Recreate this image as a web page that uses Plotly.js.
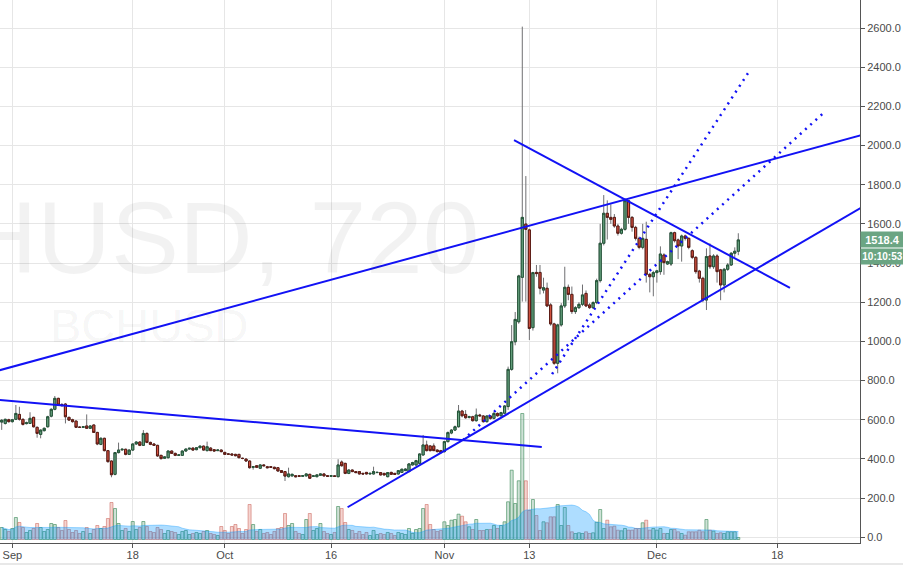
<!DOCTYPE html>
<html><head><meta charset="utf-8">
<script src="https://cdn.plot.ly/plotly-3.0.1.min.js"></script>
<style>html,body{margin:0;padding:0;background:#fff;overflow:hidden}#chart{width:903px;height:565px}</style>
</head><body><div id="chart"></div>
<script>
const time = [
'2017-08-30 12','2017-08-31 00','2017-08-31 12',
'2017-09-01 00','2017-09-01 12','2017-09-02 00','2017-09-02 12','2017-09-03 00','2017-09-03 12','2017-09-04 00','2017-09-04 12','2017-09-05 00','2017-09-05 12',
'2017-09-06 00','2017-09-06 12','2017-09-07 00','2017-09-07 12','2017-09-08 00','2017-09-08 12','2017-09-09 00','2017-09-09 12','2017-09-10 00','2017-09-10 12',
'2017-09-11 00','2017-09-11 12','2017-09-12 00','2017-09-12 12','2017-09-13 00','2017-09-13 12','2017-09-14 00','2017-09-14 12','2017-09-15 00','2017-09-15 12',
'2017-09-16 00','2017-09-16 12','2017-09-17 00','2017-09-17 12','2017-09-18 00','2017-09-18 12','2017-09-19 00','2017-09-19 12','2017-09-20 00','2017-09-20 12',
'2017-09-21 00','2017-09-21 12','2017-09-22 00','2017-09-22 12','2017-09-23 00','2017-09-23 12','2017-09-24 00','2017-09-24 12','2017-09-25 00','2017-09-25 12',
'2017-09-26 00','2017-09-26 12','2017-09-27 00','2017-09-27 12','2017-09-28 00','2017-09-28 12','2017-09-29 00','2017-09-29 12','2017-09-30 00','2017-09-30 12',
'2017-10-01 00','2017-10-01 12','2017-10-02 00','2017-10-02 12','2017-10-03 00','2017-10-03 12','2017-10-04 00','2017-10-04 12','2017-10-05 00','2017-10-05 12',
'2017-10-06 00','2017-10-06 12','2017-10-07 00','2017-10-07 12','2017-10-08 00','2017-10-08 12','2017-10-09 00','2017-10-09 12','2017-10-10 00','2017-10-10 12',
'2017-10-11 00','2017-10-11 12','2017-10-12 00','2017-10-12 12','2017-10-13 00','2017-10-13 12','2017-10-14 00','2017-10-14 12','2017-10-15 00','2017-10-15 12',
'2017-10-16 00','2017-10-16 12','2017-10-17 00','2017-10-17 12','2017-10-18 00','2017-10-18 12','2017-10-19 00','2017-10-19 12','2017-10-20 00','2017-10-20 12',
'2017-10-21 00','2017-10-21 12','2017-10-22 00','2017-10-22 12','2017-10-23 00','2017-10-23 12','2017-10-24 00','2017-10-24 12','2017-10-25 00','2017-10-25 12',
'2017-10-26 00','2017-10-26 12','2017-10-27 00','2017-10-27 12','2017-10-28 00','2017-10-28 12','2017-10-29 00','2017-10-29 12','2017-10-30 00','2017-10-30 12',
'2017-10-31 00','2017-10-31 12',
'2017-11-01 00','2017-11-01 12','2017-11-02 00','2017-11-02 12','2017-11-03 00','2017-11-03 12','2017-11-04 00','2017-11-04 12','2017-11-05 00','2017-11-05 12',
'2017-11-06 00','2017-11-06 12','2017-11-07 00','2017-11-07 12','2017-11-08 00','2017-11-08 12','2017-11-09 00','2017-11-09 12','2017-11-10 00','2017-11-10 12',
'2017-11-11 00','2017-11-11 12','2017-11-12 00','2017-11-12 12','2017-11-13 00','2017-11-13 12','2017-11-14 00','2017-11-14 12','2017-11-15 00','2017-11-15 12',
'2017-11-16 00','2017-11-16 12','2017-11-17 00','2017-11-17 12','2017-11-18 00','2017-11-18 12','2017-11-19 00','2017-11-19 12','2017-11-20 00','2017-11-20 12',
'2017-11-21 00','2017-11-21 12','2017-11-22 00','2017-11-22 12','2017-11-23 00','2017-11-23 12','2017-11-24 00','2017-11-24 12','2017-11-25 00','2017-11-25 12',
'2017-11-26 00','2017-11-26 12','2017-11-27 00','2017-11-27 12','2017-11-28 00','2017-11-28 12','2017-11-29 00','2017-11-29 12','2017-11-30 00','2017-11-30 12',
'2017-12-01 00','2017-12-01 12','2017-12-02 00','2017-12-02 12','2017-12-03 00','2017-12-03 12','2017-12-04 00','2017-12-04 12','2017-12-05 00','2017-12-05 12',
'2017-12-06 00','2017-12-06 12','2017-12-07 00','2017-12-07 12','2017-12-08 00','2017-12-08 12','2017-12-09 00','2017-12-09 12','2017-12-10 00','2017-12-10 12',
'2017-12-11 00','2017-12-11 12','2017-12-12 00','2017-12-12 12'
];
const open = [
588,581,600,590,602,627,602,580,581,612,
561,525,544,564,618,653,709,677,680,612,
600,593,562,561,568,556,573,535,474,505,
442,389,321,432,446,449,423,445,476,486,
469,530,484,476,469,418,403,406,440,428,
418,418,440,450,455,447,457,465,442,455,
447,442,445,433,425,425,423,423,403,399,
389,357,365,352,369,360,360,357,355,340,
335,309,313,314,314,311,313,321,311,309,
316,323,314,311,313,309,384,377,326,343,
335,335,326,331,323,323,330,330,326,309,
331,326,323,331,340,335,369,369,377,420,
471,466,466,445,442,437,488,532,547,564,
644,627,612,615,595,624,619,590,619,607,
632,620,633,667,857,998,1100,1327,1599,1569,
1070,1352,1352,1262,1271,1186,1089,888,1084,1181,
1276,1240,1152,1172,1189,1245,1186,1172,1198,1310,
1501,1654,1633,1633,1589,1552,1572,1718,1633,1582,
1526,1480,1521,1342,1330,1351,1356,1441,1395,1395,
1555,1518,1487,1538,1526,1463,1429,1359,1322,1211,
1436,1381,1436,1365,1288,1368,1390,1450,1460
];
const high = [
603,605,605,604,675,666,606,590,638,615,
565,550,560,620,658,721,712,685,685,615,
605,595,566,566,627,572,575,538,510,508,
445,392,435,483,452,452,448,478,490,490,
547,535,488,478,472,420,413,442,443,432,
422,442,453,456,458,460,468,468,488,460,
450,447,448,436,428,428,426,425,406,402,
392,363,368,372,372,364,362,360,357,343,
338,355,325,317,317,316,326,324,316,321,
326,325,317,316,316,398,392,380,346,346,
338,337,329,333,329,360,334,333,328,333,
334,328,343,350,352,378,385,395,428,522,
493,470,479,448,446,492,540,552,570,675,
650,649,620,620,657,630,624,622,623,640,
637,640,675,871,1083,1150,1340,2607,1844,1575,
1355,1390,1390,1325,1300,1195,1095,1090,1195,1381,
1290,1280,1180,1200,1290,1260,1195,1205,1320,1600,
1747,1720,1700,1650,1600,1580,1730,1722,1640,1590,
1535,1600,1611,1350,1360,1365,1485,1450,1412,1560,
1560,1525,1545,1545,1530,1470,1435,1365,1330,1475,
1500,1445,1445,1370,1375,1400,1455,1480,1552
];
const low = [
548,575,585,585,598,595,570,576,578,560,
508,505,540,560,612,648,670,668,581,595,
585,558,558,558,553,553,532,470,470,438,
380,306,316,428,442,418,420,440,472,465,
466,480,470,466,410,398,400,402,425,414,
415,415,437,447,443,444,454,442,438,440,
437,440,433,420,420,418,413,403,398,386,
350,345,353,348,362,352,354,346,335,328,
287,305,310,306,308,308,310,298,308,306,
313,310,308,308,308,306,360,322,322,332,
327,320,320,320,320,320,327,315,315,306,
318,318,320,328,338,332,366,366,374,416,
438,438,440,433,428,432,484,526,542,560,
612,605,606,590,590,615,585,585,600,602,
615,616,628,650,850,980,1090,1203,1203,1007,
1055,1330,1240,1245,1175,1080,880,837,1075,1170,
1210,1140,1140,1165,1180,1175,1165,1165,1190,1300,
1490,1520,1600,1580,1540,1545,1565,1600,1560,1515,
1470,1470,1300,1250,1230,1300,1340,1340,1390,1385,
1505,1420,1407,1515,1470,1420,1345,1300,1200,1160,
1370,1370,1300,1210,1250,1360,1385,1430,1440
];
const close = [
597,602,590,600,632,602,576,584,607,564,
530,547,556,615,653,709,675,672,615,598,
590,561,561,564,556,568,535,476,505,442,
386,319,432,445,449,423,445,476,486,469,
530,484,474,469,415,401,410,440,428,418,
420,440,450,454,445,457,465,445,462,442,
440,445,437,423,424,420,416,406,402,389,
355,360,357,369,365,355,357,350,338,331,
312,323,321,309,311,314,323,301,313,318,
323,313,311,314,311,369,365,326,343,335,
330,323,323,323,326,335,331,318,318,330,
321,321,340,347,348,374,381,391,425,471,
442,442,442,437,432,488,534,547,564,644,
620,610,615,595,624,620,590,619,607,632,
620,636,670,857,998,1112,1334,1633,1572,1066,
1351,1346,1271,1274,1181,1089,888,1084,1181,1276,
1240,1152,1172,1189,1237,1181,1172,1198,1310,1501,
1654,1633,1623,1589,1552,1572,1718,1633,1582,1526,
1480,1526,1342,1330,1351,1360,1446,1402,1407,1555,
1514,1487,1538,1526,1480,1429,1356,1322,1211,1433,
1381,1436,1356,1288,1368,1390,1450,1460,1518
];
const volume = [
12,10,8,11,22,17,12,7,9,11,
16,12,8,10,16,15,12,9,19,10,
7,9,6,8,12,6,10,14,11,13,
21,37,31,16,9,11,8,18,10,12,
18,13,8,7,12,10,6,9,8,7,
5,8,9,5,6,7,6,8,9,6,
5,4,13,9,6,13,15,11,6,10,
35,15,8,10,6,7,5,8,11,12,
26,14,16,8,6,5,20,26,9,11,
16,8,6,5,7,33,31,17,10,9,
6,8,5,7,4,9,5,6,5,7,
6,4,7,6,5,11,6,10,11,31,
35,15,10,8,9,17.7,14,19.3,20,25.3,
23.3,17.7,12.7,10,20,9,9,10,10,14,
11,14,17.7,37.7,69.3,36,58.7,126,58.7,29,
40,24,9,17.7,16.7,22.7,22.7,35,14,32,
14,7.7,6,6.7,6,7.7,6,6.7,17.3,30,
11,19.3,12.7,13.3,9.3,8.7,11,9.3,9.3,11,
11,16.7,19.3,9.3,11,9.3,11,6,6,10,
10,7.7,6,4.3,7.7,7.7,7.7,9.3,7.7,20,
9.3,8.3,6,6.7,6,7.7,7.7,7.7,2
];
const priceTicks = [0,200,400,600,800,1000,1200,1400,1600,1800,2000,2200,2400,2600];
const priceTickText = ['0.0','200.0','400.0','600.0','800.0','1000.0','1200.0','1400.0','1600.0','1800.0','2000.0','2200.0','2400.0','2600.0'];
const dateTicks = ['2017-09-01','2017-09-18','2017-10-01','2017-10-16','2017-11-01','2017-11-13','2017-12-01','2017-12-18'];
const dateTickText = ['Sep','18','Oct','16','Nov','13','Dec','18'];
const lastPrice = 1518.4;
const countdown = '10:10:53';
const watermark = 'BCHUSD, 720';
const symbolName = 'BCHUSD';
// hand-drawn trend lines (date, price)
const resistX = ['2017-08-28 00:00','2018-01-01 00:00'], resistY = [831, 2074];
const fallX = ['2017-08-28 00:00','2017-11-14 18:00'], fallY = [708, 461];
const supportX = ['2017-10-18 08:00','2018-01-01 00:00'], supportY = [153, 1728];
const wedgeX = ['2017-11-10 20:00','2017-12-19 19:00'], wedgeY = [2028, 1273];
const dotAX = ['2017-11-16 05:00','2017-12-13 21:00'], dotAY = [833, 2370];
const dotBX = ['2017-11-03 15:00','2017-12-24 17:00'], dotBY = [496, 2172];

const up = close.map((c,i)=>c>=open[i]);
const volFill = up.map(u=>u?'rgba(107,165,131,0.32)':'rgba(215,84,66,0.25)');
const volLine = up.map(u=>u?'rgba(80,150,105,0.7)':'rgba(200,90,80,0.5)');
const volMA = volume.map((v,i)=>{const s=volume.slice(Math.max(0,i-19),i+1);return s.reduce((a,b)=>a+b,0)/s.length;});
const bodyHigh = open.map((o,i)=>Math.max(o,close[i]));
const bodyLow = open.map((o,i)=>Math.min(o,close[i]));

const blue = 'rgb(18,18,245)';
const lineTrace = (xs,ys,dash,w)=>({type:'scatter',mode:'lines',x:xs,y:ys,yaxis:'y2',line:{color:blue,width:w,dash:dash},hoverinfo:'skip'});

const traces = [
 {type:'bar',x:time,y:volume,yaxis:'y',marker:{color:volFill,line:{color:volLine,width:1}},hoverinfo:'skip'},
 {type:'scatter',mode:'lines',x:time,y:volMA,yaxis:'y',fill:'tozeroy',fillcolor:'rgba(4,150,255,0.32)',line:{color:'rgba(4,150,255,0.35)',width:1},hoverinfo:'skip'},
 {type:'candlestick',x:time,open:open,high:high,low:low,close:close,yaxis:'y2',
  increasing:{line:{color:'#6f6f72',width:1},fillcolor:'#6f6f72'},
  decreasing:{line:{color:'#6f6f72',width:1},fillcolor:'#6f6f72'},hoverinfo:'skip'},
 {type:'candlestick',x:time,open:open,high:bodyHigh,low:bodyLow,close:close,yaxis:'y2',
  increasing:{line:{color:'#225437',width:1},fillcolor:'#6ba583'},
  decreasing:{line:{color:'#5b1a13',width:1},fillcolor:'#d75442'},hoverinfo:'skip'},
 lineTrace(resistX,resistY,'solid',2),
 lineTrace(fallX,fallY,'solid',2),
 lineTrace(supportX,supportY,'solid',2),
 lineTrace(wedgeX,wedgeY,'solid',2),
 lineTrace(dotAX,dotAY,'2px,5px',2.5),
 lineTrace(dotBX,dotBY,'2px,5px',2.5)
];

const fontFam = 'Liberation Sans, Arial, sans-serif';
const layout = {
 width:903, height:565,
 margin:{l:0,r:43,t:0,b:22,pad:0},
 paper_bgcolor:'#ffffff', plot_bgcolor:'#ffffff',
 showlegend:false,
 font:{family:fontFam,size:11,color:'#4a4a4a'},
 boxgap:0.2, boxgroupgap:0.25, boxmode:'overlay',
 bargap:0.15,
 xaxis:{type:'date',range:['2017-08-30 06:15','2017-12-29 16:20'],tickvals:dateTicks,ticktext:dateTickText,
  showgrid:true,gridcolor:'#e6e6e6',gridwidth:1,showline:true,linecolor:'#555',linewidth:1,
  ticks:'outside',ticklen:4,tickcolor:'#555',ticklabelstandoff:-2,tickfont:{family:fontFam,size:11,color:'#4a4a4a'},
  rangeslider:{visible:false},zeroline:false,fixedrange:true},
 yaxis:{range:[-3.5,539.5],visible:false,fixedrange:true},
 yaxis2:{overlaying:'y',side:'right',anchor:'x',range:[-29.6,2743],tickvals:priceTicks,ticktext:priceTickText,
  showgrid:true,gridcolor:'#e6e6e6',gridwidth:1,showline:true,linecolor:'#555',linewidth:1,
  ticks:'outside',ticklen:4,tickcolor:'#555',zeroline:false,tickfont:{family:fontFam,size:11,color:'#4a4a4a'},fixedrange:true},
 shapes:[
  {type:'rect',xref:'paper',yref:'paper',x0:0,x1:1.06,y0:-0.045,y1:-0.0368,fillcolor:'#e8e8e8',line:{width:0}}
 ],
 annotations:[
  {text:watermark,xref:'paper',yref:'paper',x:0.5605,y:0.562,xanchor:'right',yanchor:'middle',showarrow:false,
   font:{family:fontFam,size:102,color:'rgba(0,0,0,0.05)'}},
  {text:symbolName,xref:'paper',yref:'paper',x:0.0558,y:0.40,xanchor:'left',yanchor:'middle',showarrow:false,
   font:{family:fontFam,size:47,color:'rgba(0,0,0,0.05)'}},
  {text:'<b>'+lastPrice.toFixed(1)+'</b>',xref:'paper',yref:'y2',x:1,y:lastPrice,xanchor:'left',yanchor:'middle',showarrow:false,
   bgcolor:'#6ba583',font:{family:fontFam,size:11,color:'#ffffff'},width:43,height:15,borderpad:0,align:'center'},
  {text:'<b>'+countdown+'</b>',xref:'paper',yref:'y2',x:1,y:lastPrice,yshift:-17,xanchor:'left',yanchor:'middle',showarrow:false,
   bgcolor:'#6ba583',font:{family:fontFam,size:10,color:'#ffffff'},borderpad:0,width:43,height:15,align:'center'}
 ]
};
Plotly.newPlot('chart',traces,layout,{staticPlot:true,displayModeBar:false});
</script>
</body></html>
